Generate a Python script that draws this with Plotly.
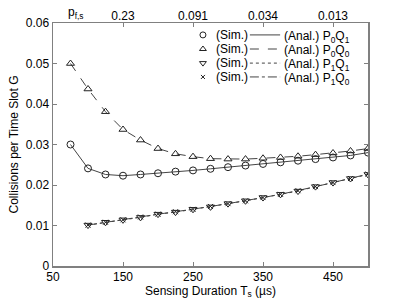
import plotly.graph_objects as go

# ---- data ----
ts_a = [75, 100, 125, 150, 175, 200, 225, 250, 275, 300, 325, 350, 375, 400, 425, 450, 475, 500]
ts_b = [100, 125, 150, 175, 200, 225, 250, 275, 300, 325, 350, 375, 400, 425, 450, 475, 500]

p0q1 = [0.0300, 0.0241, 0.0226, 0.0223, 0.0226, 0.0229, 0.0233, 0.0236, 0.0240, 0.0244,
        0.0248, 0.0252, 0.0256, 0.0260, 0.0264, 0.0268, 0.0273, 0.0280]
p0q0 = [0.0500, 0.0437, 0.0381, 0.0337, 0.0311, 0.0290, 0.0277, 0.0270, 0.0265, 0.0264,
        0.0264, 0.0266, 0.0268, 0.0271, 0.0275, 0.0279, 0.0284, 0.0290]
p1q1 = [0.0101, 0.0108, 0.0114, 0.0120, 0.0128, 0.0133, 0.0140, 0.0146, 0.0154, 0.0161,
        0.0169, 0.0177, 0.0185, 0.0196, 0.0206, 0.0216, 0.0226]
p1q0 = [0.0101, 0.0108, 0.0114, 0.0121, 0.0128, 0.0134, 0.0140, 0.0147, 0.0154, 0.0161,
        0.0169, 0.0177, 0.0186, 0.0196, 0.0206, 0.0216, 0.0227]

x_ticks = [50, 150, 250, 350, 450]
pfs_ticks = [150, 250, 350, 450]
pfs_labels = ["0.23", "0.091", "0.034", "0.013"]
y_ticks = [0, 0.01, 0.02, 0.03, 0.04, 0.05, 0.06]
y_labels = ["0", "0.01", "0.02", "0.03", "0.04", "0.05", "0.06"]

names = ["P<sub>0</sub>Q<sub>1</sub>", "P<sub>0</sub>Q<sub>0</sub>",
         "P<sub>1</sub>Q<sub>1</sub>", "P<sub>1</sub>Q<sub>0</sub>"]
symbols = ["circle-open", "triangle-up-open", "triangle-down-open", "x-thin-open"]
dashes = ["solid", "dash", "dot", "dashdot"]

LINE = "#444444"
MK = "#222222"
AX = "#808080"
FONT = "Liberation Sans, Arial, sans-serif"

fig = go.Figure()

series = [(ts_a, p0q1), (ts_a, p0q0), (ts_b, p1q1), (ts_b, p1q0)]
for i, (xs, ys) in enumerate(series):
    fig.add_trace(go.Scatter(x=xs, y=ys, mode="lines",
                             line=dict(color=LINE, width=1, dash=dashes[i]),
                             showlegend=False, hoverinfo="skip"))
for i, (xs, ys) in enumerate(series):
    fig.add_trace(go.Scatter(x=xs, y=ys, mode="markers",
                             marker=dict(symbol=symbols[i], size=7 if i < 3 else 5,
                                         color=MK, line=dict(width=1, color=MK)),
                             showlegend=False, hoverinfo="skip"))

# ---- manual legend (overlay axes spanning the plot area) ----
rows = [0.951, 0.893, 0.835, 0.778]
mx, l0, l1 = 0.476, 0.625, 0.721
for i, ry in enumerate(rows):
    fig.add_trace(go.Scatter(x=[mx], y=[ry], mode="markers", xaxis="x3", yaxis="y2",
                             marker=dict(symbol=symbols[i], size=6 if i < 3 else 4,
                                         color=MK, line=dict(width=1, color=MK)),
                             showlegend=False, hoverinfo="skip"))
    fig.add_trace(go.Scatter(x=[l0, l1], y=[ry, ry], mode="lines", xaxis="x3", yaxis="y2",
                             line=dict(color=LINE, width=1, dash=dashes[i]),
                             showlegend=False, hoverinfo="skip"))
    fig.add_annotation(x=0.510, y=ry, xref="paper", yref="paper", text="(Sim.)",
                       showarrow=False, xanchor="left", yanchor="middle",
                       font=dict(size=12, family=FONT, color="black"))
    fig.add_annotation(x=0.726, y=ry - 0.008, xref="paper", yref="paper",
                       text="(Anal.) " + names[i],
                       showarrow=False, xanchor="left", yanchor="middle",
                       font=dict(size=12, family=FONT, color="black"))

fig.add_annotation(x=0.04, y=1.0, xref="paper", yref="paper",
                   text="p<sub>f,s</sub>", showarrow=False, xanchor="left",
                   yanchor="bottom", yshift=0,
                   font=dict(size=12, family=FONT, color="black"))

fig.update_layout(
    width=407, height=306,
    margin=dict(l=53, r=39, t=23, b=40, autoexpand=False),
    paper_bgcolor="white", plot_bgcolor="white",
    font=dict(family=FONT, size=12, color="black"),
    xaxis=dict(range=[50, 500], tickvals=x_ticks, ticks="inside", ticklen=4,
               tickcolor=AX, showline=True, linecolor=AX, linewidth=1.5, mirror=True,
               showgrid=False, zeroline=False, automargin=False, ticklabelstandoff=-1,
               title=dict(text="Sensing Duration T<sub>s</sub> (µs)", standoff=2,
                          font=dict(size=12)),
               tickfont=dict(size=12)),
    xaxis2=dict(range=[50, 500], overlaying="x", side="top", tickvals=pfs_ticks,
                ticktext=pfs_labels, ticks="inside", ticklen=4, tickcolor=AX,
                showgrid=False, zeroline=False, showline=False, automargin=False,
                tickfont=dict(size=12)),
    xaxis3=dict(range=[0, 1], overlaying="x", visible=False, fixedrange=True),
    yaxis=dict(range=[0, 0.06], tickvals=y_ticks, ticktext=y_labels, ticks="inside",
               ticklen=4, tickcolor=AX, showline=True, linecolor=AX, linewidth=1.5,
               mirror="ticks", showgrid=False, zeroline=False, automargin=False,
               title=dict(text="Collisions per Time Slot G", standoff=4,
                          font=dict(size=12)),
               tickfont=dict(size=12)),
    yaxis2=dict(range=[0, 1], overlaying="y", visible=False, fixedrange=True),
)
fig.add_trace(go.Scatter(x=[None], y=[None], xaxis="x2", showlegend=False))

fig.write_html("out.html", config={"displayModeBar": False, "staticPlot": True},
               post_script="document.body.style.margin='0px';document.body.style.overflow='hidden';")
